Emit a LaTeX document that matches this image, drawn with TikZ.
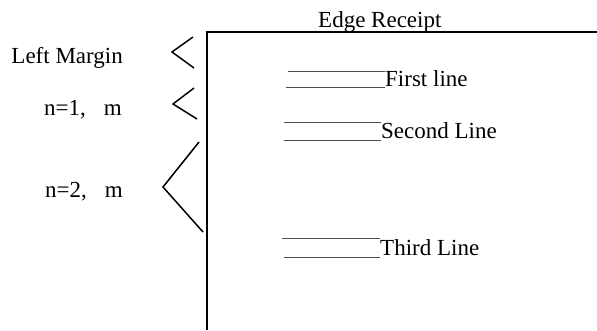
\documentclass[tikz,border=0pt]{standalone}
\usepackage{fontspec}
\setmainfont{Liberation Serif}
\usetikzlibrary{positioning}

\begin{document}
\begin{tikzpicture}[
    x=1pt, y=-1pt,
    font=\fontsize{23}{27}\selectfont,
    lbl/.style={inner sep=0pt},
    edge/.style={line width=1.6pt},
    brace/.style={line width=1.5pt},
    blank/.style={draw=black!70, line width=0.9pt},
  ]
  \useasboundingbox (0,0) rectangle (597,330);

  % the receipt edge
  \draw[edge] (207,330) -- (207,32) -- (597,32);
  \node[lbl, anchor=base west] (title) at (318,27) {Edge Receipt};

  % margin labels on the left
  \node[lbl, anchor=base east] (lmargin) at (123,63) {Left Margin};
  \node[lbl, anchor=base east] (none) at (122,115) {n=1,\hspace{0.78em}m};
  \node[lbl, anchor=base east] (ntwo) at (123,197) {n=2,\hspace{0.78em}m};

  \draw[brace] (193,37) -- (172,52) -- (194,68);
  \draw[brace] (194,88) -- (173,104) -- (197,119);
  \draw[brace] (199,142) -- (163,187) -- (203,232);

  % the text lines
  \node[lbl, anchor=base west] (first) at (385,86) {First line};
  \node[lbl, anchor=base west] (second) at (381,138) {Second Line};
  \node[lbl, anchor=base west] (third) at (380,255) {Third Line};

  \draw[blank] ([yshift=15pt]first.base west) -- ++(-97,0);
  \draw[blank] ([yshift=-1pt]first.base west) -- ++(-99,0);
  \draw[blank] ([yshift=16pt]second.base west) -- ++(-97,0);
  \draw[blank] ([yshift=-2pt]second.base west) -- ++(-97,0);
  \draw[blank] ([yshift=17pt]third.base west) -- ++(-98,0);
  \draw[blank] ([yshift=-2pt]third.base west) -- ++(-96,0);
\end{tikzpicture}
\end{document}
